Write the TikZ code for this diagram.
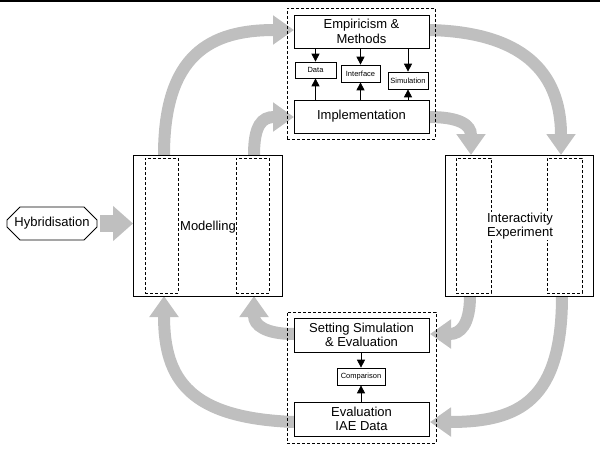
\documentclass[tikz,border=0pt]{standalone}
\usepackage{fontspec}
\setmainfont{Liberation Sans}
\usetikzlibrary{arrows.meta,shapes.misc,calc}
\tikzset{
  box/.style={draw, line width=0.8pt, fill=white, inner sep=0pt, align=center, font=\fontsize{13}{14.5}\selectfont},
  smallbox/.style={draw, line width=0.7pt, fill=white, inner sep=0pt, font=\fontsize{7.5}{9}\selectfont},
  dbox/.style={draw, line width=0.7pt, dash pattern=on 3pt off 2pt, inner sep=0pt},
  garrow/.style={draw=black!25, line width=12pt, -{Triangle[width=28pt,length=21pt]}},
  blk/.style={line width=0.8pt, -{Triangle[width=8pt,length=8pt]}},
  label/.style={fill=white, inner sep=1pt, align=center, font=\fontsize{13}{14.5}\selectfont},
}
\begin{document}
\begin{tikzpicture}[x=1pt,y=-1pt]
\useasboundingbox (0,0) rectangle (600,450);
\draw[line width=1.5pt] (0,0.75) -- (600,0.75);

% coordinates for the gray arrows
\coordinate (m1) at (164,155);
\coordinate (m2) at (254,155);
\coordinate (i1) at (471,155);
\coordinate (i2) at (561,155);
\coordinate (mb1) at (164,296);
\coordinate (mb2) at (254,296);
\coordinate (ib1) at (470,296);
\coordinate (ib2) at (562,296);
\coordinate (empw) at (294,30);
\coordinate (empe) at (429,30);
\coordinate (implw) at (294,117);
\coordinate (imple) at (429,117);
\coordinate (setw) at (294,334);
\coordinate (sete) at (430,334);
\coordinate (evalw) at (294,422);
\coordinate (evale) at (430,422);
\coordinate (hs) at (100,223.5);
\coordinate (ht) at (133,223.5);

% gray arrows
\draw[garrow] (m1) .. controls (164,55) and (210,30) .. (empw);
\draw[garrow] (m2) .. controls (254,125) and (262,117) .. (implw);
\draw[garrow] (empe) .. controls (520,32) and (561,70) .. (i2);
\draw[garrow] (imple) .. controls (460,117) and (471,125) .. (i1);
\draw[garrow] (ib1) .. controls (470,325) and (460,334) .. (sete);
\draw[garrow] (ib2) .. controls (562,400) and (520,422) .. (evale);
\draw[garrow] (setw) .. controls (265,334) and (254,325) .. (mb2);
\draw[garrow] (evalw) .. controls (190,418) and (164,380) .. (mb1);
\draw[draw=black!25, line width=17pt, -{Triangle[width=34pt,length=20pt]}] (hs) -- (ht);

% dashed group boxes
\node[dbox, minimum width=148, minimum height=131] (topbox) at (361,73.5) {};
\node[dbox, minimum width=149, minimum height=131] (botbox) at (361.5,377.5) {};

% top group
\node[box, minimum width=135, minimum height=33] (emp) at (361.5,31.5) {Empiricism \&\\Methods};
\node[box, minimum width=135, minimum height=33] (impl) at (361.5,116.5) {Implementation};
\node[smallbox, minimum width=41, minimum height=16] (data) at (315.5,70) {Data};
\node[smallbox, minimum width=39, minimum height=17] (intf) at (360.5,73.5) {Interface};
\node[smallbox, minimum width=40, minimum height=17] (sim) at (408,80.5) {Simulation};
\draw[blk] (data.north |- emp.south) -- (data.north);
\draw[blk] (intf.north |- emp.south) -- (intf.north);
\draw[blk] (sim.north |- emp.south) -- (sim.north);
\draw[blk] (data.south |- impl.north) -- (data.south);
\draw[blk] (intf.south |- impl.north) -- (intf.south);
\draw[blk] (sim.south |- impl.north) -- (sim.south);

% bottom group
\node[box, minimum width=135, minimum height=34] (set) at (361.5,335) {Setting Simulation\\\& Evaluation};
\node[box, minimum width=135, minimum height=34] (eval) at (361.5,419) {Evaluation\\IAE Data};
\node[smallbox, minimum width=48, minimum height=17] (comp) at (361,376.5) {Comparison};
\draw[blk] (comp.north |- set.south) -- (comp.north);
\draw[blk] (comp.south |- eval.north) -- (comp.south);

% Modelling
\node[box, minimum width=149, minimum height=141] (mod) at (207.5,225.5) {};
\node[dbox, minimum width=33, minimum height=135] (modl) at (161.5,225.5) {};
\node[dbox, minimum width=33, minimum height=135] (modr) at (252.5,225.5) {};
\node[label, fill=none] (modt) at (208,227) {Modelling};

% Interactivity
\node[box, minimum width=148, minimum height=141] (inter) at (519,225.5) {};
\node[dbox, minimum width=35, minimum height=135] (interl) at (473.5,225.5) {};
\node[dbox, minimum width=35, minimum height=135] (interr) at (564.5,225.5) {};
\node[label] (intert) at (520,226) {Interactivity\\Experiment};

% Hybridisation
\node[draw, line width=0.8pt, chamfered rectangle, chamfered rectangle xsep=7pt, chamfered rectangle ysep=7pt, inner sep=0pt, minimum width=90, minimum height=33, font=\fontsize{13}{14.5}\selectfont] (hyb) at (52,223.5) {Hybridisation};
\end{tikzpicture}
\end{document}
